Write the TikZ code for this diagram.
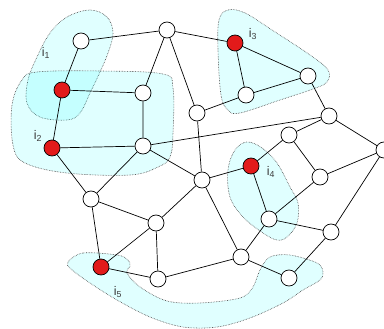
\documentclass[tikz,border=0pt]{standalone}
\usepackage{fontspec}
\setmainfont{Liberation Sans}
\definecolor{nodered}{RGB}{226,26,26}
\definecolor{labelgray}{RGB}{60,60,60}
\definecolor{aqua}{RGB}{0,255,255}
\tikzset{
  vtx/.style={circle, draw=black, fill=white, line width=0.7pt, minimum size=16pt, inner sep=0pt},
  seed/.style={vtx, fill=nodered},
  region/.style={fill=aqua, fill opacity=0.12, draw=black!75, densely dotted, line width=0.6pt},
  lbl/.style={text=labelgray, font=\fontsize{12.5}{14}\selectfont, inner sep=0pt}
}

\begin{document}
\begin{tikzpicture}[x=1pt, y=-1pt]
    \useasboundingbox (0,0) rectangle (384,329);

    % shaded regions
    \draw[region] plot[smooth cycle, tension=0.6] coordinates {(90,10) (107,17) (113,33) (108,53) (100,72) (90,93) (80,113) (67,120) (40,117) (27,103) (28,80) (37,57) (50,33) (67,17)};
    \draw[region] plot[smooth cycle, tension=0.6] coordinates {(37,72) (100,71) (163,74) (173,88) (173,133) (170,157) (158,167) (130,175) (67,173) (25,163) (13,145) (12,105) (22,80)};
    \draw[region] plot[smooth cycle, tension=0.6] coordinates {(228,10) (245,13) (272,30) (310,55) (328,70) (327,82) (313,89) (280,100) (240,113) (228,110) (221,95) (218,50) (219,20)};
    \draw[region] plot[smooth cycle, tension=0.6] coordinates {(247,142) (262,148) (277,163) (290,187) (298,203) (297,223) (287,237) (277,240) (263,233) (243,217) (230,197) (228,170) (235,150)};
    \draw[region] plot[smooth cycle, tension=0.55] coordinates {(68,262) (83,253) (117,255) (128,260) (130,266) (127,273) (140,287) (167,301) (200,303) (240,298) (253,287) (260,270) (270,257) (290,255) (317,263) (323,272) (320,280) (303,290) (283,303) (250,318) (217,327) (183,327) (150,317) (117,300) (90,283) (71,269)};

    % vertices
    \node[vtx]  (a) at (81,41) {};
    \node[vtx]  (b) at (167,30) {};
    \node[seed] (c) at (62,90) {};
    \node[vtx]  (d) at (143,93) {};
    \node[seed] (e) at (52,148) {};
    \node[vtx]  (f) at (143,146) {};
    \node[seed] (g) at (235,43) {};
    \node[vtx]  (h) at (308,76) {};
    \node[vtx]  (i) at (246,95) {};
    \node[vtx]  (j) at (197,113) {};
    \node[vtx]  (k) at (202,180) {};
    \node[vtx]  (l) at (329,116) {};
    \node[vtx]  (m) at (289,135) {};
    \node[vtx]  (n) at (384,150) {};
    \node[vtx]  (o) at (320,177) {};
    \node[seed] (p) at (251,166) {};
    \node[vtx]  (q) at (269,219) {};
    \node[vtx]  (r) at (331,232) {};
    \node[vtx]  (s) at (241,257) {};
    \node[vtx]  (t) at (289,278) {};
    \node[vtx]  (u) at (158,279) {};
    \node[vtx]  (v) at (156,223) {};
    \node[vtx]  (w) at (91,199) {};
    \node[seed] (x) at (101,267) {};

    % edges
    \draw[line width=0.7pt] (a) -- (b) (a) -- (c) (c) -- (d) (c) -- (e) (b) -- (d) (b) -- (j) (b) -- (g)
        (d) -- (f) (e) -- (f) (f) -- (l) (f) -- (k) (f) -- (w) (e) -- (w)
        (g) -- (h) (g) -- (i) (h) -- (i) (i) -- (j) (h) -- (l) (j) -- (k)
        (l) -- (m) (l) -- (n) (m) -- (p) (m) -- (o) (n) -- (o) (n) -- (r)
        (o) -- (q) (p) -- (q) (p) -- (k) (q) -- (r) (q) -- (s) (k) -- (s) (k) -- (v)
        (s) -- (t) (t) -- (r) (s) -- (u) (u) -- (v) (v) -- (w) (w) -- (x) (x) -- (v) (x) -- (u);

    % labels
    \node[lbl] (l1) at (46,53) {i\textsubscript{1}};
    \node[lbl] (l2) at (38,136) {i\textsubscript{2}};
    \node[lbl] (l3) at (253,34) {i\textsubscript{3}};
    \node[lbl] (l4) at (271,172) {i\textsubscript{4}};
    \node[lbl] (l5) at (118,292) {i\textsubscript{5}};
\end{tikzpicture}
\end{document}
